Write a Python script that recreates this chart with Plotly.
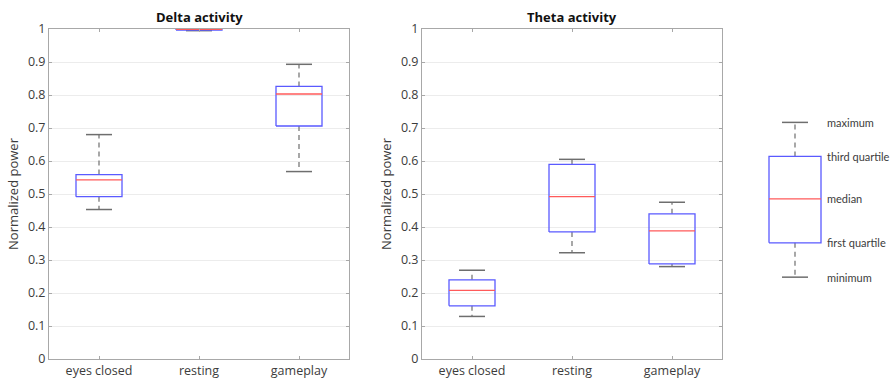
import plotly.graph_objects as go

categories = ["eyes closed", "resting", "gameplay"]
positions = [1, 2, 3]

# Delta activity: min, Q1, median, Q3, max
delta_min = [0.453, 0.995, 0.568]
delta_q1 = [0.492, 0.997, 0.706]
delta_med = [0.543, 0.999, 0.803]
delta_q3 = [0.559, 1.000, 0.826]
delta_max = [0.680, 1.000, 0.893]

# Theta activity
theta_min = [0.129, 0.322, 0.280]
theta_q1 = [0.161, 0.385, 0.288]
theta_med = [0.208, 0.492, 0.388]
theta_q3 = [0.240, 0.590, 0.440]
theta_max = [0.269, 0.605, 0.475]

# Legend schematic
legend_stats = [0.248, 0.352, 0.485, 0.614, 0.717]
legend_labels = ["minimum", "first quartile", "median", "third quartile", "maximum"]

y_ticks = [round(i * 0.1, 1) for i in range(11)]
y_ticktext = ["0", "0.1", "0.2", "0.3", "0.4", "0.5", "0.6", "0.7", "0.8", "0.9", "1"]

BOX_BLUE = "#5a5aff"
MED_RED = "#ff5a5a"
WHISK = "#6e6e6e"
BOX_W = 0.23
CAP_W = 0.13

fig = go.Figure()


def add_boxes(xs, mins, q1s, meds, q3s, maxs, xa, ya, bw=BOX_W, cw=CAP_W):
    for x, mn, q1, md, q3, mx in zip(xs, mins, q1s, meds, q3s, maxs):
        # whiskers
        fig.add_trace(go.Scatter(x=[x, x, None, x, x], y=[q3, mx, None, q1, mn], mode="lines",
                                 line=dict(color=WHISK, width=1.2, dash="5px,4px"),
                                 xaxis=xa, yaxis=ya, showlegend=False, hoverinfo="skip"))
        # caps
        fig.add_trace(go.Scatter(x=[x - cw, x + cw, None, x - cw, x + cw], y=[mx, mx, None, mn, mn],
                                 mode="lines", line=dict(color=WHISK, width=1.5),
                                 xaxis=xa, yaxis=ya, showlegend=False, hoverinfo="skip"))
        # box
        fig.add_trace(go.Scatter(x=[x - bw, x + bw, x + bw, x - bw, x - bw], y=[q1, q1, q3, q3, q1],
                                 mode="lines", line=dict(color=BOX_BLUE, width=1.3),
                                 xaxis=xa, yaxis=ya, showlegend=False, hoverinfo="skip"))
        # median
        fig.add_trace(go.Scatter(x=[x - bw, x + bw], y=[md, md], mode="lines",
                                 line=dict(color=MED_RED, width=1.3),
                                 xaxis=xa, yaxis=ya, showlegend=False, hoverinfo="skip"))


add_boxes(positions, delta_min, delta_q1, delta_med, delta_q3, delta_max, "x", "y")
add_boxes(positions, theta_min, theta_q1, theta_med, theta_q3, theta_max, "x2", "y2")
add_boxes([1], [legend_stats[0]], [legend_stats[1]], [legend_stats[2]], [legend_stats[3]],
          [legend_stats[4]], "x3", "y3", bw=0.26, cw=0.13)

FONT = "Open Sans"
TICK_COLOR = "#3c3c3c"
AXIS_COLOR = "#a8a8a8"

y_dom = [22 / 381, 352 / 381]

common_x = dict(range=[0.5, 3.5], tickvals=positions, ticktext=categories, showgrid=False,
                zeroline=False, showline=True, linecolor=AXIS_COLOR, linewidth=1, mirror="ticks",
                ticks="inside", ticklen=3, tickcolor=AXIS_COLOR, automargin=False,
                tickfont=dict(family=FONT, size=12.5, color=TICK_COLOR), fixedrange=True)
common_y = dict(range=[0, 1.0], tickvals=y_ticks, ticktext=y_ticktext, showgrid=True,
                gridcolor="#ececec", gridwidth=1, zeroline=False, showline=True,
                linecolor=AXIS_COLOR, linewidth=1, mirror="ticks", ticks="inside", ticklen=3,
                tickcolor=AXIS_COLOR, tickfont=dict(family=FONT, size=12.5, color=TICK_COLOR),
                automargin=False,
                title=dict(text="Normalized power", font=dict(family=FONT, size=13, color=TICK_COLOR),
                           standoff=6), domain=y_dom, fixedrange=True)

fig.update_layout(
    width=890, height=381,
    margin=dict(l=0, r=0, t=0, b=0),
    paper_bgcolor="white", plot_bgcolor="white",
    xaxis=dict(domain=[49 / 890, 349 / 890], anchor="y", **common_x),
    yaxis=dict(anchor="x", **common_y),
    xaxis2=dict(domain=[422 / 890, 722 / 890], anchor="y2", **common_x),
    yaxis2=dict(anchor="x2", **common_y),
    xaxis3=dict(domain=[745 / 890, 845 / 890], range=[0.5, 1.5], anchor="y3", visible=False,
                fixedrange=True, automargin=False),
    yaxis3=dict(domain=y_dom, range=[0, 1.0], anchor="x3", visible=False, fixedrange=True,
                automargin=False),
    showlegend=False,
)

for txt, xr in [("Delta activity", "x domain"), ("Theta activity", "x2 domain")]:
    fig.add_annotation(text="<b>" + txt + "</b>", xref=xr, yref="paper", x=0.5, y=352 / 381,
                       yshift=1, xanchor="center", yanchor="bottom", showarrow=False,
                       font=dict(family=FONT, size=13, color="#111111"))

for val, lab in zip(legend_stats, legend_labels):
    fig.add_annotation(text=lab, xref="x3", yref="y3", x=1.30, y=val, xanchor="left",
                       yanchor="middle", showarrow=False,
                       font=dict(family="Lato", size=11, color="#3c3c3c"))

fig.write_html("out.html")
